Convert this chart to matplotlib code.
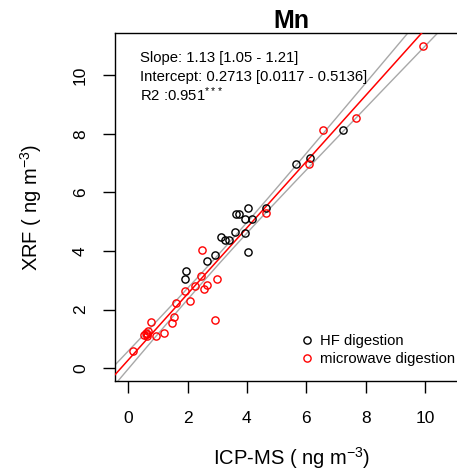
import numpy as np
import matplotlib
matplotlib.use("Agg")
import matplotlib.pyplot as plt

plt.rcParams['font.family'] = ['Liberation Sans', 'DejaVu Sans']
plt.rcParams['mathtext.fontset'] = 'custom'
plt.rcParams['mathtext.rm'] = 'Liberation Sans'
plt.rcParams['mathtext.it'] = 'Liberation Sans'
plt.rcParams['mathtext.bf'] = 'Liberation Sans:bold'

# HF digestion (black)
hf_icp = [1.91, 1.94, 2.64, 2.93, 3.14, 3.25, 3.40, 3.60, 3.95, 4.02, 3.62, 3.74,
          3.93, 4.17, 4.02, 4.64, 5.66, 6.13, 7.25]
hf_xrf = [3.05, 3.31, 3.65, 3.87, 4.49, 4.39, 4.37, 4.63, 4.62, 3.95, 5.25, 5.25,
          5.10, 5.10, 5.47, 5.45, 6.96, 7.17, 8.13]

# microwave digestion (red)
mw_icp = [0.17, 0.55, 0.60, 0.64, 0.66, 0.63, 0.78, 0.95, 1.22, 1.49, 1.56, 1.62,
          2.10, 1.90, 2.25, 2.45, 2.55, 2.65, 2.98, 2.93, 2.50, 4.64, 6.08, 6.55,
          7.68, 9.93]
mw_xrf = [0.58, 1.12, 1.20, 1.15, 1.25, 1.08, 1.56, 1.08, 1.21, 1.55, 1.75, 2.23,
          2.30, 2.63, 2.80, 3.13, 2.70, 2.85, 3.05, 1.63, 4.03, 5.31, 6.96, 8.13,
          8.53, 11.00]

# reported regression
slope = 1.13
slope_ci = [1.05, 1.21]
intercept = 0.2713
intercept_ci = [0.0117, 0.5136]
r2 = 0.951

ticks = [0, 2, 4, 6, 8, 10]
lims = [-0.44, 11.44]

W, H = 457, 473
fig = plt.figure(figsize=(W / 100, H / 100), dpi=100)
L, R, T, B = 115, 468, 33, 381
ax = fig.add_axes([L / W, 1 - B / H, (R - L) / W, (B - T) / H])
ax.set_xlim(lims)
ax.set_ylim(lims)

# 95% confidence band of the fitted line (slope SE from the reported CI)
x_all = np.array(hf_icp + mw_icp)
n = len(x_all)
xbar = x_all.mean()
sxx = np.sum((x_all - xbar) ** 2)
tval = 2.017
se_b = (slope_ci[1] - slope_ci[0]) / (2 * tval)
xg = np.linspace(lims[0], lims[1], 200)
yfit = intercept + slope * xg
se = se_b * np.sqrt(sxx / n + (xg - xbar) ** 2)
ax.plot(xg, yfit + tval * se, color='#a8a8a8', lw=1.0, zorder=2)
ax.plot(xg, yfit - tval * se, color='#a8a8a8', lw=1.0, zorder=2)
ax.plot(xg, yfit, color='#ff0000', lw=1.1, zorder=3)

ax.plot(hf_icp, hf_xrf, 'o', mfc='none', mec='black', ms=5.2, mew=1.0,
        zorder=4, label='HF digestion')
ax.plot(mw_icp, mw_xrf, 'o', mfc='none', mec='#ff0000', ms=5.2, mew=1.0,
        zorder=4, label='microwave digestion')

for sp in ax.spines.values():
    sp.set_linewidth(1.0)

ax.set_xticks(ticks)
ax.set_yticks(ticks)
ax.tick_params(axis='both', direction='out', length=8.5, width=1.0,
               labelsize=12.5)
ax.tick_params(axis='x', pad=13)
ax.tick_params(axis='y', pad=11, labelrotation=90)
for lab in ax.get_yticklabels():
    lab.set_va('center')

ax.set_title('Mn', fontsize=18, fontweight='bold', pad=-1)
ax.set_xlabel('ICP-MS ( ng m$^{-3}$)', fontsize=14.5, labelpad=14)
ax.set_ylabel('XRF ( ng m$^{-3}$)', fontsize=14.5, labelpad=21)

fs = 10.7
ax.text(0.071, 0.928, 'Slope: %.2f [%.2f - %.2f]' % (slope, slope_ci[0], slope_ci[1]),
        transform=ax.transAxes, fontsize=fs, va='center', ha='left')
ax.text(0.071, 0.874, 'Intercept: %.4f [%.4f - %.4f]' % (intercept, intercept_ci[0], intercept_ci[1]),
        transform=ax.transAxes, fontsize=fs, va='center', ha='left')
ax.text(0.071, 0.822, 'R2 :%.3f$^{***}$' % r2,
        transform=ax.transAxes, fontsize=fs, va='center', ha='left')

leg = ax.legend(loc='upper left', bbox_to_anchor=(300.7 / W, 1 - 334 / H),
                bbox_transform=fig.transFigure, frameon=False, fontsize=fs,
                handlelength=0.8, handletextpad=0.5, labelspacing=0.28,
                borderpad=0, borderaxespad=0)

fig.savefig('out.png', dpi=100)
